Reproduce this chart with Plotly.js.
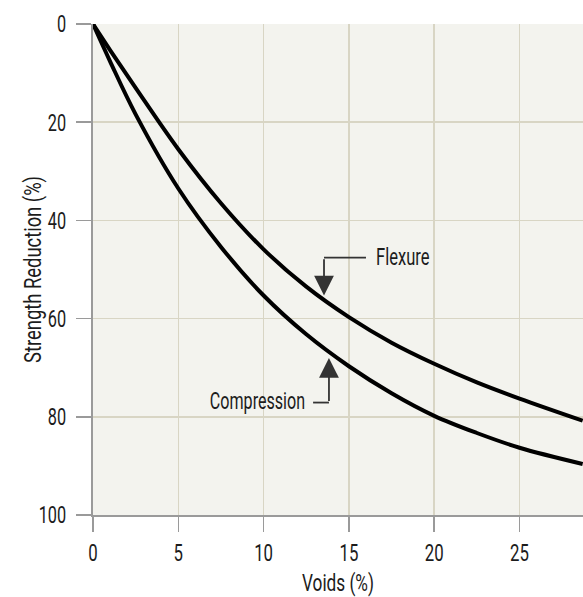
<!DOCTYPE html>
<html>
<head>
<meta charset="utf-8">
<script src="https://cdn.plot.ly/plotly-3.0.1.min.js"></script>
<style>
html,body{margin:0;padding:0;background:#fff;}
#chart{width:583px;height:597px;}
</style>
</head>
<body>
<div id="chart"></div>
<script>
// Voids (%)
const voids = [0, 1, 2.5, 5, 7.5, 10, 12.5, 15, 17.5, 20, 22.5, 25, 28.7];
// Strength reduction (%)
const compression = [0, 7.6, 18.4, 33.5, 45.4, 55.3, 63.2, 69.7, 75.2, 79.8, 83.3, 86.3, 89.6];
const flexure     = [0, 5.3, 13.0, 25.5, 36.5, 45.9, 53.5, 59.7, 64.9, 69.2, 73.0, 76.3, 80.8];
const xTicks = [0, 5, 10, 15, 20, 25];
const yTicks = [0, 20, 40, 60, 80, 100];

const FONT = "Roboto, 'DejaVu Sans', sans-serif";
const TXT = '#1c1c1c';
const ARROW = '#333333';

const traces = [
  {x: voids, y: compression, name: 'Compression', mode: 'lines',
   line: {color: '#000', width: 4, shape: 'spline', smoothing: 1.0}, hoverinfo: 'skip'},
  {x: voids, y: flexure, name: 'Flexure', mode: 'lines',
   line: {color: '#000', width: 4, shape: 'spline', smoothing: 1.0}, hoverinfo: 'skip'}
];

const layout = {
  width: 583, height: 597,
  margin: {l: 93, r: 0, t: 24, b: 82, pad: 0},
  paper_bgcolor: '#ffffff',
  plot_bgcolor: '#f3f3ee',
  showlegend: false,
  font: {family: FONT, color: TXT, size: 23},
  xaxis: {
    range: [0, 28.72], tickvals: xTicks, ticktext: xTicks.map(String),
    showgrid: true, gridcolor: '#d8d5c4', gridwidth: 1.5,
    zeroline: false, showline: true, linecolor: '#9a9a9a', linewidth: 2,
    ticks: 'outside', ticklen: 15, tickcolor: '#9a9a9a', tickwidth: 1.5,
    tickfont: {family: FONT, size: 24, color: TXT},
    title: {text: 'Voids (%)', font: {family: FONT, size: 23, color: TXT}}
  },
  yaxis: {
    range: [100, 0], tickvals: yTicks, ticktext: yTicks.map(String),
    showgrid: true, gridcolor: '#d8d5c4', gridwidth: 1.5,
    zeroline: false, showline: true, linecolor: '#9a9a9a', linewidth: 2,
    ticks: 'outside', ticklen: 15, tickcolor: '#9a9a9a', tickwidth: 1.5,
    ticklabelstandoff: 5,
    tickfont: {family: FONT, size: 24, color: TXT},
    title: {text: 'Strength Reduction (%)', font: {family: FONT, size: 23, color: TXT}}
  },
  shapes: [
    {type: 'line', xref: 'x', yref: 'y', x0: 16.0, x1: 13.54, y0: 47.6, y1: 47.6,
     line: {color: ARROW, width: 1.8}},
    {type: 'line', xref: 'x', yref: 'y', x0: 12.9, x1: 13.83, y0: 77.1, y1: 77.1,
     line: {color: ARROW, width: 1.8}}
  ],
  annotations: [
    {x: 13.54, y: 55.3, ax: 13.54, ay: 47.6, xref: 'x', yref: 'y', axref: 'x', ayref: 'y',
     text: '', showarrow: true, arrowhead: 2, arrowsize: 2.2, arrowwidth: 1.8, arrowcolor: ARROW},
    {x: 13.83, y: 68.0, ax: 13.83, ay: 77.1, xref: 'x', yref: 'y', axref: 'x', ayref: 'y',
     text: '', showarrow: true, arrowhead: 2, arrowsize: 2.2, arrowwidth: 1.8, arrowcolor: ARROW},
    {x: 16.45, y: 47.6, xref: 'x', yref: 'y', text: 'Flexure', showarrow: false,
     xanchor: 'left', yanchor: 'middle', font: {family: FONT, size: 23, color: TXT}},
    {x: 12.55, y: 76.8, xref: 'x', yref: 'y', text: 'Compression', showarrow: false,
     xanchor: 'right', yanchor: 'middle', font: {family: FONT, size: 23, color: TXT}}
  ]
};

// Narrow the text horizontally (condensed look) about a chosen anchor point.
function squeeze(el, sx, anchor) {
  const b = el.getBBox();
  const cx = anchor === 'start' ? b.x : anchor === 'end' ? b.x + b.width : b.x + b.width / 2;
  const cy = b.y + b.height / 2;
  const prev = el.getAttribute('transform') || '';
  el.setAttribute('transform', prev + ' translate(' + cx + ',' + cy + ') scale(' + sx + ',1) translate(' + (-cx) + ',' + (-cy) + ')');
}

Plotly.newPlot('chart', traces, layout, {displayModeBar: false, staticPlot: true}).then(function (gd) {
  gd.querySelectorAll('.xtick text').forEach(t => squeeze(t, 0.7, 'middle'));
  gd.querySelectorAll('.ytick text').forEach(t => squeeze(t, 0.68, 'end'));
  gd.querySelectorAll('.g-xtitle text').forEach(t => squeeze(t, 0.75, 'middle'));
  gd.querySelectorAll('.g-ytitle text').forEach(t => {
    squeeze(t, 0.8, 'middle');
    t.setAttribute('transform', 'translate(10,0) ' + t.getAttribute('transform'));
  });
  gd.querySelectorAll('.annotation-text').forEach(t => {
    if (t.textContent === 'Flexure') squeeze(t, 0.72, 'start');
    else if (t.textContent === 'Compression') squeeze(t, 0.7, 'end');
  });
});
</script>
</body>
</html>
